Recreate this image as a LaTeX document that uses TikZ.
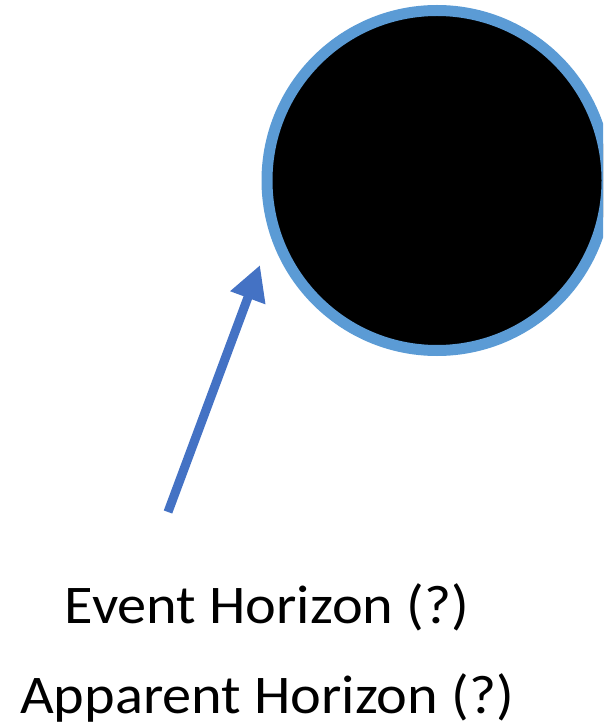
\documentclass[tikz,border=0pt]{standalone}
\usepackage{fontspec}
\setmainfont{Carlito}
\newfontfamily\lblfont[FakeStretch=1.07]{Carlito}
\usepackage{xcolor}
\usetikzlibrary{arrows.meta,positioning}
\definecolor{rimblue}{HTML}{5B9BD5}
\definecolor{arrblue}{HTML}{4472C4}

\begin{document}
\begin{tikzpicture}[x=1pt, y=-1pt,
  hole/.style={circle, draw=rimblue, line width=11pt, fill=black, minimum size=340pt, inner sep=0pt},
  lbl/.style={anchor=base, inner sep=0pt, font=\lblfont\fontsize{54.5}{64}\selectfont},
  pt/.style={-{Triangle[length=35pt, width=35pt]}, line width=9pt, arrblue}]
  \useasboundingbox (0,0) rectangle (603,727);
  \clip (0,0) rectangle (603,727);
  \node[hole] (bh) at (437,180.5) {};
  \coordinate (tail) at (168,512); \coordinate (tip) at (260,265);
  \draw[pt] (tail) -- (tip);
  \node[lbl] (ev) at (267,623) {Event Horizon (?)};
  \node[lbl] (ap) at (267,713) {Apparent Horizon (?)};
\end{tikzpicture}
\end{document}
